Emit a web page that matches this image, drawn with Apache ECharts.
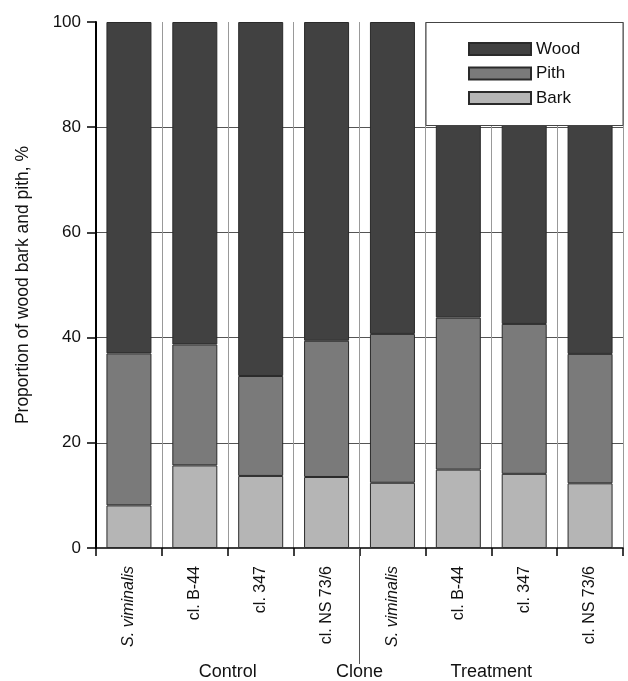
<!DOCTYPE html>
<html><head><meta charset="utf-8">
<script src="https://cdn.jsdelivr.net/npm/echarts@6/dist/echarts.min.js"></script>
<style>html,body{margin:0;padding:0;background:#fff}#c{width:628px;height:681px}</style>
</head><body><div id="c"></div>
<script>
const categories = ['S. viminalis','cl. B-44','cl. 347','cl. NS 73/6','S. viminalis','cl. B-44','cl. 347','cl. NS 73/6'];
const bark = [8.1, 15.7, 13.7, 13.5, 12.4, 14.9, 14.1, 12.3];
const pith = [28.9, 23.0, 19.0, 25.9, 28.3, 28.9, 28.5, 24.6];
const wood = [63.0, 61.3, 67.3, 60.6, 59.3, 56.2, 57.4, 63.1];
const groupLabels = ['Control', 'Clone', 'Treatment'];
const yTicks = [0, 20, 40, 60, 80, 100];

const FONT = 'Liberation Sans, Arial, sans-serif';
const chart = echarts.init(document.getElementById('c'), null, {renderer: 'canvas'});
const border = {borderColor: '#2a2a2a', borderWidth: 1};

chart.setOption({
  animation: false,
  backgroundColor: '#fff',
  textStyle: {fontFamily: FONT, color: '#111'},
  grid: {left: 96, right: 5, top: 22, bottom: 133, containLabel: false},
  legend: {
    orient: 'vertical', left: 463, top: 35.5, z: 6,
    itemWidth: 62, itemHeight: 12, itemGap: 7.5,
    selectedMode: false, icon: 'rect',
    textStyle: {fontSize: 17, color: '#111', fontFamily: FONT},
    data: ['Wood', 'Pith', 'Bark']
  },
  xAxis: {
    type: 'category',
    data: categories.map(c => c.startsWith('S.') ? {value: c, textStyle: {fontStyle: 'italic'}} : c),
    boundaryGap: true,
    axisLine: {lineStyle: {color: '#000', width: 1.5}},
    axisTick: {show: true, length: 8, lineStyle: {color: '#000', width: 1.5}},
    splitLine: {show: true, lineStyle: {color: '#999', width: 1}},
    axisLabel: {rotate: 90, margin: 18, fontSize: 16, color: '#111', fontFamily: FONT, interval: 0}
  },
  yAxis: {
    type: 'value', min: 0, max: 100, interval: 20,
    name: 'Proportion of wood bark and pith, %',
    nameLocation: 'middle', nameGap: 64,
    nameTextStyle: {fontSize: 17.5, color: '#111', fontFamily: FONT},
    axisLine: {show: true, lineStyle: {color: '#000', width: 2}},
    axisTick: {show: true, length: 9, lineStyle: {color: '#000', width: 1.5}},
    axisLabel: {margin: 15, fontSize: 17, color: '#111', fontFamily: FONT,
      formatter: v => yTicks.includes(v) ? String(v) : ''},
    splitLine: {show: true, showMaxLine: false, showMinLine: false, lineStyle: {color: '#555', width: 1}}
  },
  series: [
    {name: 'Bark', type: 'bar', stack: 's', barWidth: 45, data: bark, itemStyle: Object.assign({color: '#b5b5b5'}, border)},
    {name: 'Pith', type: 'bar', stack: 's', barWidth: 45, data: pith, itemStyle: Object.assign({color: '#7a7a7a'}, border)},
    {name: 'Wood', type: 'bar', stack: 's', barWidth: 45, data: wood, itemStyle: Object.assign({color: '#414141'}, border)}
  ]
});

// decorations: group labels, clone divider, legend box
const c0 = chart.convertToPixel({xAxisIndex: 0}, 0);
const c1 = chart.convertToPixel({xAxisIndex: 0}, 1);
const band = c1 - c0;
const left = c0 - band / 2;
const y0 = chart.convertToPixel({yAxisIndex: 0}, 0);
const y100 = chart.convertToPixel({yAxisIndex: 0}, 100);
const rightEdge = left + band * categories.length;
const g = [
  {type: 'rect', z: 5, shape: {x: 426, y: y100 + 0.5, width: rightEdge - 426, height: 103},
   style: {fill: '#fff', stroke: '#444', lineWidth: 1}},
  {type: 'line', z: 5, shape: {x1: left + band * 4, y1: y0, x2: left + band * 4, y2: 664},
   style: {stroke: '#555', lineWidth: 1}}
];
groupLabels.forEach((t, i) => {
  g.push({type: 'text', z: 5, style: {text: t, x: left + band * (2 + 2 * i), y: 672,
    align: 'center', verticalAlign: 'middle', textAlign: 'center', textVerticalAlign: 'middle',
    fontSize: 18, fontFamily: FONT, fill: '#111'}});
});
chart.setOption({graphic: g});
</script></body></html>
